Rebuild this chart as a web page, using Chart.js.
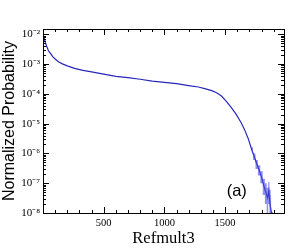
<!DOCTYPE html>
<html><head><meta charset="utf-8">
<script src="https://cdn.jsdelivr.net/npm/chart.js@4/dist/chart.umd.min.js"></script>
<style>html,body{margin:0;padding:0;background:#fff}#c{display:block}</style>
</head><body>
<canvas id="c" width="291" height="251"></canvas>
<script>
const refmult = [5,10,20,30,45,60,80,100,130,160,200,260,330,400,500,600,700,800,900,1000,1100,1200,1280,1340,1390,1430,1470,1510,1550,1590,1630,1660,1690,1720,1740,1760,1780,1800,1820,1835,1850,1860,1870,1880,1885];
const probability = [8.9e-3,7.1e-3,5.2e-3,4.0e-3,2.8e-3,2.35e-3,1.78e-3,1.48e-3,1.17e-3,1.02e-3,8.7e-4,7.2e-4,6.2e-4,5.5e-4,4.6e-4,3.9e-4,3.5e-4,3.1e-4,2.7e-4,2.45e-4,2.2e-4,1.9e-4,1.7e-4,1.48e-4,1.29e-4,1.1e-4,8.5e-5,5.6e-5,3.5e-5,2.1e-5,1.12e-5,6.3e-6,3.2e-6,1.3e-6,7.9e-7,4.5e-7,2.8e-7,1.6e-7,7.9e-8,5.0e-8,3.2e-8,5.6e-8,2.0e-8,1.1e-8,5e-9];
const errX = [1720,1740,1760,1780,1800,1820,1835,1850,1860,1870,1880];
const errHigh = [1.6e-6,1.0e-6,6e-7,4e-7,2.5e-7,1.4e-7,1.0e-7,7e-8,1.1e-7,6e-8,4e-8];
const errLow = [1.0e-6,6e-7,3e-7,1.8e-7,1e-7,4e-8,2e-8,1e-8,2e-8,5e-9,5e-9];
const yTickValues = [1e-8,1e-7,1e-6,1e-5,1e-4,1e-3,1e-2];
const xTickValues = [500,1000,1500];

const sup = {'-':'\u207B','0':'\u2070','1':'\u00B9','2':'\u00B2','3':'\u00B3','4':'\u2074','5':'\u2075','6':'\u2076','7':'\u2077','8':'\u2078','9':'\u2079'};
function decadeLabel(v){
  const e = Math.round(Math.log10(v));
  return '10' + String(e).split('').map(c=>sup[c]).join('');
}

const frameTicks = {
  id:'frameTicks',
  afterDraw(chart){
    const {ctx, chartArea:a, scales:{x,y}} = chart;
    ctx.save();
    ctx.strokeStyle = '#000';
    ctx.lineWidth = 1;
    ctx.beginPath();
    for(let v=100; v<x.max; v+=100){
      const px = Math.round(x.getPixelForValue(v))+0.5;
      const L = (v%500===0)?6:3;
      ctx.moveTo(px,a.bottom); ctx.lineTo(px,a.bottom-L);
      ctx.moveTo(px,a.top); ctx.lineTo(px,a.top+L);
    }
    for(let e=-8; e<=-2; e++){
      for(let k=1;k<=9;k++){
        const v = k*Math.pow(10,e);
        if(v<y.min||v>y.max) continue;
        const py = Math.round(y.getPixelForValue(v))+0.5;
        const L = (k===1)?6:3;
        ctx.moveTo(a.left,py); ctx.lineTo(a.left+L,py);
        ctx.moveTo(a.right,py); ctx.lineTo(a.right-L,py);
      }
    }
    ctx.stroke();
    ctx.strokeRect(Math.round(a.left)+0.5, Math.round(a.top)+0.5, Math.round(a.right-a.left), Math.round(a.bottom-a.top));
    const o = chart.options.plugins.frameTicks;
    ctx.fillStyle='#000';
    ctx.font = o.font;
    ctx.textAlign='center'; ctx.textBaseline='middle';
    ctx.fillText(o.text, x.getPixelForValue(o.x), y.getPixelForValue(o.y));
    ctx.restore();
  }
};

new Chart(document.getElementById('c'), {
  type:'line',
  data:{
    datasets:[
      {data: errX.map((v,i)=>({x:v,y:errHigh[i]})), borderWidth:0, pointRadius:0, fill:'+1', backgroundColor:'rgba(70,70,230,0.6)', stepped:'middle'},
      {data: errX.map((v,i)=>({x:v,y:errLow[i]})), borderWidth:0, pointRadius:0, fill:false, stepped:'middle'},
      {data: refmult.map((v,i)=>({x:v,y:probability[i]})), borderColor:'#2828b8', borderWidth:1.2, pointRadius:0, fill:false, tension:0}
    ]
  },
  options:{
    responsive:false, animation:false, clip:true,
    layout:{padding:{top:29,right:7,left:0,bottom:0}},
    plugins:{legend:{display:false}, tooltip:{enabled:false},
      frameTicks:{text:'(a)', x:1596, y:5.5e-8, font:'16.5px "Liberation Sans", Arial, sans-serif'}},
    scales:{
      x:{type:'linear', min:0, max:1985,
        afterBuildTicks(s){ s.ticks = xTickValues.map(v=>({value:v})); },
        afterFit(s){ s.height = 38; },
        grid:{display:false, drawTicks:false}, border:{display:false},
        ticks:{color:'#000', padding:4, maxRotation:0, callback:(v)=>String(v), font:{family:'"Liberation Serif", "Times New Roman", serif', size:10.5}},
        title:{display:true, text:'Refmult3', color:'#000', padding:{top:0,bottom:2}, font:{family:'"Liberation Serif", "Times New Roman", serif', size:16.5}}
      },
      y:{type:'logarithmic', min:1e-8, max:0.0151,
        afterBuildTicks(s){ s.ticks = yTickValues.map(v=>({value:v})); },
        afterFit(s){ s.width = 43; },
        grid:{display:false, drawTicks:false}, border:{display:false},
        ticks:{color:'#000', padding:3, callback:(v)=>decadeLabel(v), font:{family:'"Liberation Serif", "Times New Roman", serif', size:11}},
        title:{display:true, text:'Normalized Probability', color:'#000', padding:{top:0,bottom:0}, font:{family:'"Liberation Sans", Arial, sans-serif', size:16}}
      }
    }
  },
  plugins:[frameTicks]
});
</script>
</body></html>
